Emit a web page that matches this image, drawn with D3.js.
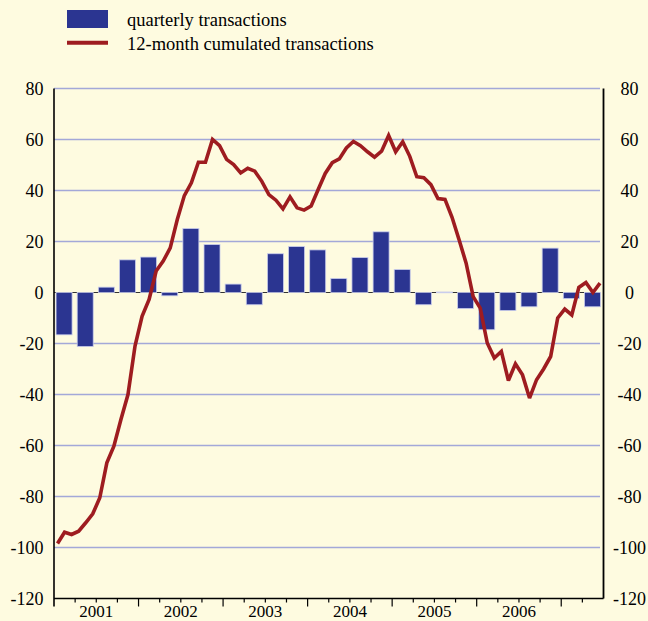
<!DOCTYPE html>
<html>
<head>
<meta charset="utf-8">
<script src="https://cdn.jsdelivr.net/npm/d3@7"></script>
<style>
  html, body { margin: 0; padding: 0; background: #fefbe0; }
  svg { display: block; }
</style>
</head>
<body>
<svg id="chart" width="648" height="621"></svg>
<script>
// Years shown on the time axis (Jan 2001 to mid-2007)
const years = ["2001", "2002", "2003", "2004", "2005", "2006"];

// Quarterly transactions, 2001Q1 .. 2007Q2
const quarterly = [
  -16.6, -21.2, 2.1, 12.8,
  13.9, -1.3, 25.1, 18.8,
  3.3, -4.8, 15.2, 18.0,
  16.7, 5.5, 13.7, 23.8,
  9.0, -4.8, 0.2, -6.3,
  -14.6, -7.1, -5.6, 17.4,
  -2.4, -5.6
];

// 12-month cumulated transactions, monthly Jan 2001 .. Jun 2007
const cumulated = [
  -98.4, -94.0, -94.9, -93.6, -90.3, -86.8, -80.5, -66.8, -60.3, -49.8, -40.0, -21.0,
  -9.3, -2.7, 8.4, 12.3, 17.5, 28.6, 38.0, 43.0, 51.1, 51.1, 60.0, 57.6,
  52.2, 50.2, 46.9, 48.7, 47.6, 43.6, 38.4, 36.2, 32.8, 37.5, 33.2, 32.3,
  33.9, 40.4, 46.7, 50.9, 52.4, 56.7, 59.2, 57.6, 55.2, 53.1, 55.4, 61.6,
  55.2, 59.1, 53.4, 45.4, 45.0, 42.3, 36.8, 36.5, 29.5, 20.7, 11.5, -1.6,
  -6.1, -19.8, -25.7, -23.1, -34.5, -28.0, -32.3, -41.4, -34.2, -30.0, -25.1, -10.0,
  -6.5, -8.8, 2.0, 3.9, 0.0, 3.7
];

// Value axis ticks
const yTicks = [80, 60, 40, 20, 0, -20, -40, -60, -80, -100, -120];

const legendLabels = ["quarterly transactions", "12-month cumulated transactions"];

const colors = { bar: "#2b3591", barEdge: "#c9cdec", line: "#9e1c20", grid: "#a3a8d8", axis: "#000", text: "#000" };
const serif = "'Liberation Serif', 'DejaVu Serif', 'Times New Roman', serif";

const svg = d3.select("#chart")
  .attr("font-family", serif);

const plot = { left: 54, right: 603.5, top: 88.5, bottom: 598.5 };
const nMonths = 78;

// x measured in months from Jan 2001
const x = d3.scaleLinear().domain([0, nMonths]).range([plot.left, plot.right]);
const y = d3.scaleLinear().domain([-120, 80]).range([plot.bottom, plot.top]);

// Gridlines
svg.append("g")
  .selectAll("line")
  .data(yTicks.filter(d => d !== -120 && d !== 0))
  .join("line")
  .attr("x1", plot.left).attr("x2", plot.right - 3.5)
  .attr("y1", d => y(d)).attr("y2", d => y(d))
  .attr("stroke", colors.grid)
  .attr("stroke-width", 1.4);

// Zero line
svg.append("line")
  .attr("x1", plot.left).attr("x2", plot.right - 3.5)
  .attr("y1", y(0)).attr("y2", y(0))
  .attr("stroke", "#333")
  .attr("stroke-width", 1.2);

// Bars
const barW = 16;
svg.append("g")
  .selectAll("rect")
  .data(quarterly)
  .join("rect")
  .attr("x", (d, i) => x(i * 3 + 1.5) - barW / 2 - 0.5)
  .attr("width", barW)
  .attr("y", d => y(Math.max(0, d)))
  .attr("height", d => Math.max(0.8, Math.abs(y(d) - y(0))))
  .attr("fill", colors.bar)
  .attr("stroke", colors.barEdge)
  .attr("stroke-width", 0.8);

// Cumulated line
const line = d3.line()
  .x((d, i) => x(i + 0.5))
  .y(d => y(d));

svg.append("path")
  .datum(cumulated)
  .attr("d", line)
  .attr("fill", "none")
  .attr("stroke", colors.line)
  .attr("stroke-width", 3.6)
  .attr("stroke-linejoin", "miter")
  .attr("stroke-miterlimit", 3);

// Axis frame: left, right and bottom
svg.append("line")
  .attr("x1", plot.left).attr("x2", plot.left)
  .attr("y1", plot.top).attr("y2", plot.bottom + 8)
  .attr("stroke", colors.axis).attr("stroke-width", 1.6);
svg.append("line")
  .attr("x1", plot.right).attr("x2", plot.right)
  .attr("y1", plot.top).attr("y2", plot.bottom)
  .attr("stroke", colors.axis).attr("stroke-width", 1.8);
svg.append("line")
  .attr("x1", plot.left).attr("x2", plot.right)
  .attr("y1", plot.bottom).attr("y2", plot.bottom)
  .attr("stroke", colors.axis).attr("stroke-width", 1.4);

// Quarter and year ticks
const tickMonths = d3.range(3, nMonths, 3);
svg.append("g")
  .selectAll("line")
  .data(tickMonths)
  .join("line")
  .attr("x1", d => x(d)).attr("x2", d => x(d))
  .attr("y1", plot.bottom)
  .attr("y2", d => plot.bottom + (d % 12 === 0 ? 8 : 4))
  .attr("stroke", colors.axis)
  .attr("stroke-width", 1.2);

// Year labels
svg.append("g")
  .selectAll("text")
  .data(years)
  .join("text")
  .attr("x", (d, i) => x(i * 12 + 6))
  .attr("y", 617)
  .attr("text-anchor", "middle")
  .attr("font-size", 17)
  .attr("fill", colors.text)
  .text(d => d);

// Value labels, left and right
svg.append("g")
  .selectAll("text")
  .data(yTicks)
  .join("text")
  .attr("x", 43.5)
  .attr("y", d => y(d) + 6)
  .attr("text-anchor", "end")
  .attr("font-size", 18)
  .attr("fill", colors.text)
  .text(d => d);

svg.append("g")
  .selectAll("text")
  .data(yTicks)
  .join("text")
  .attr("x", 629.5)
  .attr("y", d => y(d) + 6)
  .attr("text-anchor", "middle")
  .attr("font-size", 18)
  .attr("fill", colors.text)
  .text(d => d);

// Legend
const legend = svg.append("g");
legend.append("rect")
  .attr("x", 67).attr("y", 10).attr("width", 41).attr("height", 18)
  .attr("fill", colors.bar);
legend.append("line")
  .attr("x1", 67).attr("x2", 108).attr("y1", 42.7).attr("y2", 42.7)
  .attr("stroke", colors.line).attr("stroke-width", 4);
legend.selectAll("text")
  .data(legendLabels)
  .join("text")
  .attr("x", 127)
  .attr("y", (d, i) => 25.5 + i * 24)
  .attr("font-size", 18.5)
  .attr("fill", colors.text)
  .text(d => d);
</script>
</body>
</html>
